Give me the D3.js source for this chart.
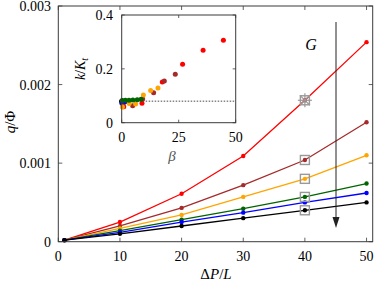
<!DOCTYPE html>
<html>
<head>
<meta charset="utf-8">
<script src="https://cdn.jsdelivr.net/npm/d3@7"></script>
<style>
  body { margin: 0; background: #fff; }
  text { font-family: "Liberation Serif", "DejaVu Serif", serif; }
</style>
</head>
<body>
<div id="chart"></div>
<script>
// main plot data: q/Phi against Delta P / L
const dpl = [1, 10, 20, 30, 40, 50];
const seriesNames = ["red", "brown", "orange", "green", "blue", "black"];
const seriesColors = ["#ff0000", "#a52a2a", "#ffa500", "#006400", "#0000ff", "#000000"];
const qRed    = [0.00002, 0.00025, 0.00061, 0.00109, 0.00180, 0.00254];
const qBrown  = [0.00002, 0.00020, 0.00043, 0.00072, 0.00104, 0.00152];
const qOrange = [0.00002, 0.00017, 0.00034, 0.00057, 0.00080, 0.00110];
const qGreen  = [0.00002, 0.00014, 0.00028, 0.00042, 0.00057, 0.00074];
const qBlue   = [0.00002, 0.00012, 0.00025, 0.00037, 0.00050, 0.00062];
const qBlack  = [0.00002, 0.00010, 0.00020, 0.00030, 0.00040, 0.00050];
const xTicks = [0, 10, 20, 30, 40, 50];
const yTicks = [0, 0.001, 0.002, 0.003];
const yTickLabels = ["0", "0.001", "0.002", "0.003"];
// grey markers at Delta P / L = 40
const markerX = 40;
const squareSeries = ["brown", "orange", "green", "black"];
const starSeries = ["red"];

// inset data: k/K_t against beta
const betaRed    = [0.9, 8.9, 17.8, 26.7, 35.7, 44.6];
const kRed       = [0.059, 0.072, 0.151, 0.217, 0.269, 0.306];
const betaBrown  = [0.5, 4.8, 9.2, 14.0, 18.7, 23.5];
const kBrown     = [0.062, 0.063, 0.088, 0.111, 0.155, 0.180];
const betaOrange = [0.3, 3.3, 6.1, 9.5, 12.7, 15.9];
const kOrange    = [0.058, 0.071, 0.069, 0.103, 0.120, 0.129];
const betaGreen  = [0.2, 1.6, 3.2, 4.9, 6.8, 8.5];
const kGreen     = [0.082, 0.083, 0.083, 0.084, 0.085, 0.087];
const betaBlue   = [0.1, 0.3, 0.6, 0.9, 1.2, 1.5];
const kBlue      = [0.072, 0.073, 0.075, 0.076, 0.077, 0.078];
const betaBlack  = [0.02, 0.1, 0.2, 0.3, 0.4, 0.5];
const kBlack     = [0.080, 0.080, 0.080, 0.080, 0.080, 0.080];
const kRef = 0.08;
const insetXTicks = [0, 25, 50];
const insetYTicks = [0, 0.2, 0.4];
const insetYTickLabels = ["0", "0.2", "0.4"];

const qValues = [qRed, qBrown, qOrange, qGreen, qBlue, qBlack];
const betaValues = [betaRed, betaBrown, betaOrange, betaGreen, betaBlue, betaBlack];
const kValues = [kRed, kBrown, kOrange, kGreen, kBlue, kBlack];

const W = 374, H = 284;
const svg = d3.select("#chart").append("svg")
    .attr("width", W)
    .attr("height", H);

const x = d3.scaleLinear().domain([0, 51]).range([58.3, 372.7]);
const y = d3.scaleLinear().domain([0, 0.003]).range([241.7, 6]);

const frameColor = "#3a3a3a";

// ticks (inward, on all sides)
function drawTicks(g, xs, ys, xt, yt, len) {
    const [x0, x1] = xs.range();
    const [y0, y1] = ys.range();
    xt.forEach(t => {
        g.append("line").attr("x1", xs(t)).attr("x2", xs(t))
            .attr("y1", y0).attr("y2", y0 - len)
            .attr("stroke", frameColor).attr("stroke-width", 0.8);
        g.append("line").attr("x1", xs(t)).attr("x2", xs(t))
            .attr("y1", y1).attr("y2", y1 + len)
            .attr("stroke", frameColor).attr("stroke-width", 0.8);
    });
    yt.forEach(t => {
        g.append("line").attr("x1", x0).attr("x2", x0 + len)
            .attr("y1", ys(t)).attr("y2", ys(t))
            .attr("stroke", frameColor).attr("stroke-width", 0.8);
        g.append("line").attr("x1", x1).attr("x2", x1 - len)
            .attr("y1", ys(t)).attr("y2", ys(t))
            .attr("stroke", frameColor).attr("stroke-width", 0.8);
    });
}

const main = svg.append("g");

// series lines and dots
const line = d3.line().x((d, i) => x(dpl[i])).y(d => y(d));
qValues.forEach((vals, s) => {
    main.append("path")
        .attr("d", line(vals))
        .attr("fill", "none")
        .attr("stroke", seriesColors[s])
        .attr("stroke-width", 1.3);
    main.selectAll(null)
        .data(vals)
        .enter().append("circle")
        .attr("cx", (d, i) => x(dpl[i]))
        .attr("cy", d => y(d))
        .attr("r", 2.2)
        .attr("fill", seriesColors[s]);
});

// grey markers at x = 40
const mi = dpl.indexOf(markerX);
squareSeries.forEach(name => {
    const v = qValues[seriesNames.indexOf(name)][mi];
    main.append("rect")
        .attr("x", x(markerX) - 4.5).attr("y", y(v) - 4.5)
        .attr("width", 9).attr("height", 9)
        .attr("fill", "none")
        .attr("stroke", "#999")
        .attr("stroke-width", 1.4);
});
starSeries.forEach(name => {
    const v = qValues[seriesNames.indexOf(name)][mi];
    const cx = x(markerX), cy = y(v);
    main.append("rect")
        .attr("x", cx - 4.5).attr("y", cy - 4.5)
        .attr("width", 9).attr("height", 9)
        .attr("fill", "none")
        .attr("stroke", "#999")
        .attr("stroke-width", 1.4);
    for (let j = 0; j < 4; j++) {
        const a = j * Math.PI / 4;
        main.append("line")
            .attr("x1", cx - 7 * Math.cos(a)).attr("y1", cy - 7 * Math.sin(a))
            .attr("x2", cx + 7 * Math.cos(a)).attr("y2", cy + 7 * Math.sin(a))
            .attr("stroke", "#999").attr("stroke-width", 1.2);
    }
});

// frame
main.append("rect")
    .attr("x", x.range()[0]).attr("y", y.range()[1])
    .attr("width", x.range()[1] - x.range()[0])
    .attr("height", y.range()[0] - y.range()[1])
    .attr("fill", "none")
    .attr("stroke", frameColor)
    .attr("stroke-width", 1);
drawTicks(main, x, y, xTicks, yTicks, 4);

// tick labels
main.selectAll(null).data(xTicks).enter().append("text")
    .attr("x", d => x(d)).attr("y", 261)
    .attr("text-anchor", "middle")
    .attr("font-size", 14)
    .text(d => d);
main.selectAll(null).data(yTicks).enter().append("text")
    .attr("x", 51).attr("y", d => y(d) + 5)
    .attr("text-anchor", "end")
    .attr("font-size", 14)
    .text((d, i) => yTickLabels[i]);

// axis labels
const xl = main.append("text")
    .attr("x", 216).attr("y", 279)
    .attr("text-anchor", "middle")
    .attr("font-size", 15);
xl.append("tspan").text("Δ");
xl.append("tspan").attr("font-style", "italic").text("P");
xl.append("tspan").text("/");
xl.append("tspan").attr("font-style", "italic").text("L");

const yl = main.append("text")
    .attr("transform", "translate(15,122) rotate(-90)")
    .attr("text-anchor", "middle")
    .attr("font-size", 15);
yl.append("tspan").attr("font-style", "italic").text("q");
yl.append("tspan").text("/Φ");

// arrow showing increasing G
main.append("line")
    .attr("x1", 336).attr("x2", 336)
    .attr("y1", 22).attr("y2", 218)
    .attr("stroke", "#222").attr("stroke-width", 1);
main.append("path")
    .attr("d", "M332.5,217 L339.5,217 L336,228 Z")
    .attr("fill", "#222");
main.append("text")
    .attr("x", 311).attr("y", 50)
    .attr("text-anchor", "middle")
    .attr("font-size", 16)
    .attr("font-style", "italic")
    .text("G");

// inset
const ix = d3.scaleLinear().domain([0, 50]).range([121.7, 235.7]);
const iy = d3.scaleLinear().domain([0, 0.4]).range([122.7, 15]);
const inset = svg.append("g");

inset.append("rect")
    .attr("x", ix.range()[0]).attr("y", iy.range()[1])
    .attr("width", ix.range()[1] - ix.range()[0])
    .attr("height", iy.range()[0] - iy.range()[1])
    .attr("fill", "#fff");

inset.append("line")
    .attr("x1", ix(0)).attr("x2", ix(50))
    .attr("y1", iy(kRef)).attr("y2", iy(kRef))
    .attr("stroke", "#333")
    .attr("stroke-width", 0.9)
    .attr("stroke-dasharray", "1.5,1.5");

const drawOrder = [5, 4, 0, 1, 2, 3];
drawOrder.forEach(s => {
    inset.selectAll(null)
        .data(kValues[s])
        .enter().append("circle")
        .attr("cx", (d, i) => ix(betaValues[s][i]))
        .attr("cy", d => iy(d))
        .attr("r", 2.5)
        .attr("fill", seriesColors[s]);
});

inset.append("rect")
    .attr("x", ix.range()[0]).attr("y", iy.range()[1])
    .attr("width", ix.range()[1] - ix.range()[0])
    .attr("height", iy.range()[0] - iy.range()[1])
    .attr("fill", "none")
    .attr("stroke", frameColor)
    .attr("stroke-width", 1);
drawTicks(inset, ix, iy, insetXTicks, insetYTicks, 3);

inset.selectAll(null).data(insetXTicks).enter().append("text")
    .attr("x", d => ix(d)).attr("y", 142)
    .attr("text-anchor", "middle")
    .attr("font-size", 14)
    .text(d => d);
inset.selectAll(null).data(insetYTicks).enter().append("text")
    .attr("x", 113).attr("y", d => iy(d) + 5)
    .attr("text-anchor", "end")
    .attr("font-size", 14)
    .text((d, i) => insetYTickLabels[i]);

const il = inset.append("text")
    .attr("transform", "translate(85,69) rotate(-90)")
    .attr("text-anchor", "middle")
    .attr("font-size", 14);
il.append("tspan").attr("font-style", "italic").text("k");
il.append("tspan").text("/");
il.append("tspan").attr("font-style", "italic").text("K");
il.append("tspan").attr("font-style", "italic").attr("font-size", 10).attr("dy", 3).text("t");

inset.append("text")
    .attr("x", 172).attr("y", 161)
    .attr("text-anchor", "middle")
    .attr("font-size", 15)
    .attr("font-style", "italic")
    .attr("fill", "#555")
    .text("β");
</script>
</body>
</html>
